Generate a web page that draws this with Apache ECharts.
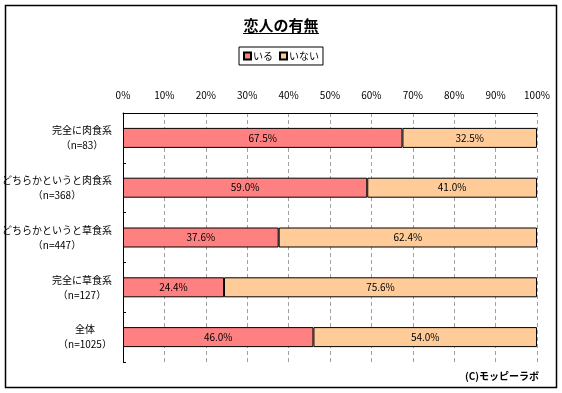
<!DOCTYPE html>
<html><head><meta charset="utf-8">
<script src="https://cdn.jsdelivr.net/npm/echarts@6/dist/echarts.min.js"></script>
<style>html,body{margin:0;padding:0;background:#fff}#c{width:562px;height:393px}</style>
</head><body><div id="c"></div>
<script>
const title = '恋人の有無';
const seriesNames = ['いる', 'いない'];
const categories = ['完全に肉食系', 'どちらかというと肉食系', 'どちらかというと草食系', '完全に草食系', '全体'];
const sampleSizes = ['83', '368', '447', '127', '1025'];
const iru = [67.5, 59.0, 37.6, 24.4, 46.0];
const inai = [32.5, 41.0, 62.4, 75.6, 54.0];
const xTicks = [0, 10, 20, 30, 40, 50, 60, 70, 80, 90, 100];
const credit = '(C)モッピーラボ';

const FF = '"MS PGothic","Noto Sans CJK JP","Liberation Sans",sans-serif';
const cv = document.createElement('canvas').getContext('2d');
cv.font = '10px ' + FF;
const rich = {};
categories.forEach((c, i) => {
  const l2 = '（n=' + sampleSizes[i] + '）';
  const w = Math.ceil(Math.max(cv.measureText(c).width, cv.measureText(l2).width));
  rich['r' + i] = { width: w, align: 'center', fontSize: 10, fontFamily: FF, color: '#000', lineHeight: 15 };
});

const chart = echarts.init(document.getElementById('c'), null, { renderer: 'canvas' });
const labelStyle = {
  show: true, position: 'inside', color: '#000', fontSize: 10, fontFamily: FF,
  formatter: p => p.value.toFixed(1) + '%'
};
chart.setOption({
  animation: false,
  backgroundColor: '#fff',
  title: {
    text: title, left: 'center', top: 13,
    textStyle: { fontSize: 15, fontWeight: 'bold', fontFamily: FF, color: '#000' }
  },
  legend: {
    data: seriesNames, top: 47, left: 'center',
    itemWidth: 7, itemHeight: 7, itemGap: 6,
    padding: [4, 4, 4, 4],
    borderColor: '#000', borderWidth: 1,
    textStyle: { fontSize: 10, fontFamily: FF, color: '#000', padding: [0, 0, 0, -3] },
    icon: 'rect'
  },
  grid: { left: 123, right: 25, top: 113, bottom: 31, containLabel: false, outerBoundsMode: 'none' },
  xAxis: {
    type: 'value', position: 'top', min: 0, max: 100, interval: 10,
    axisLine: { show: true, lineStyle: { color: '#000', width: 1 } },
    axisTick: { show: false },
    axisLabel: { color: '#000', fontSize: 10, fontFamily: FF, margin: 13, formatter: v => v + '%' },
    splitLine: { show: true, lineStyle: { color: '#a0a0a0', type: [4, 3], width: 1 } }
  },
  yAxis: {
    type: 'category', inverse: true, data: categories,
    axisLine: { show: true, lineStyle: { color: '#000', width: 1 } },
    axisTick: { show: true, inside: true, length: 3, lineStyle: { color: '#000' } },
    axisLabel: {
      margin: 11, rich: rich,
      formatter: (v, i) => '{r' + i + '|' + v + '}\n{r' + i + '|（n=' + sampleSizes[i] + '）}'
    },
    splitLine: { show: false }
  },
  series: [
    {
      name: seriesNames[0], type: 'bar', stack: 's', data: iru, barWidth: 20,
      itemStyle: { color: '#FF8080', borderColor: '#000', borderWidth: 1 },
      label: labelStyle
    },
    {
      name: seriesNames[1], type: 'bar', stack: 's', data: inai, barWidth: 20,
      itemStyle: { color: '#FFCC99', borderColor: '#000', borderWidth: 1 },
      label: labelStyle
    }
  ],
  graphic: [
    { type: 'rect', shape: { x: 5.5, y: 5.5, width: 551, height: 382 }, style: { fill: null, stroke: '#000', lineWidth: 1.5 }, silent: true, z: -10 },
    { type: 'line', left: 'center', top: 31, shape: { x1: 0, y1: 0, x2: 76, y2: 0 }, style: { stroke: '#000', lineWidth: 1 }, silent: true },
    { type: 'text', right: 23, top: 371, style: { text: credit, font: 'bold 10px ' + FF, fill: '#000' } }
  ]
});
</script></body></html>
